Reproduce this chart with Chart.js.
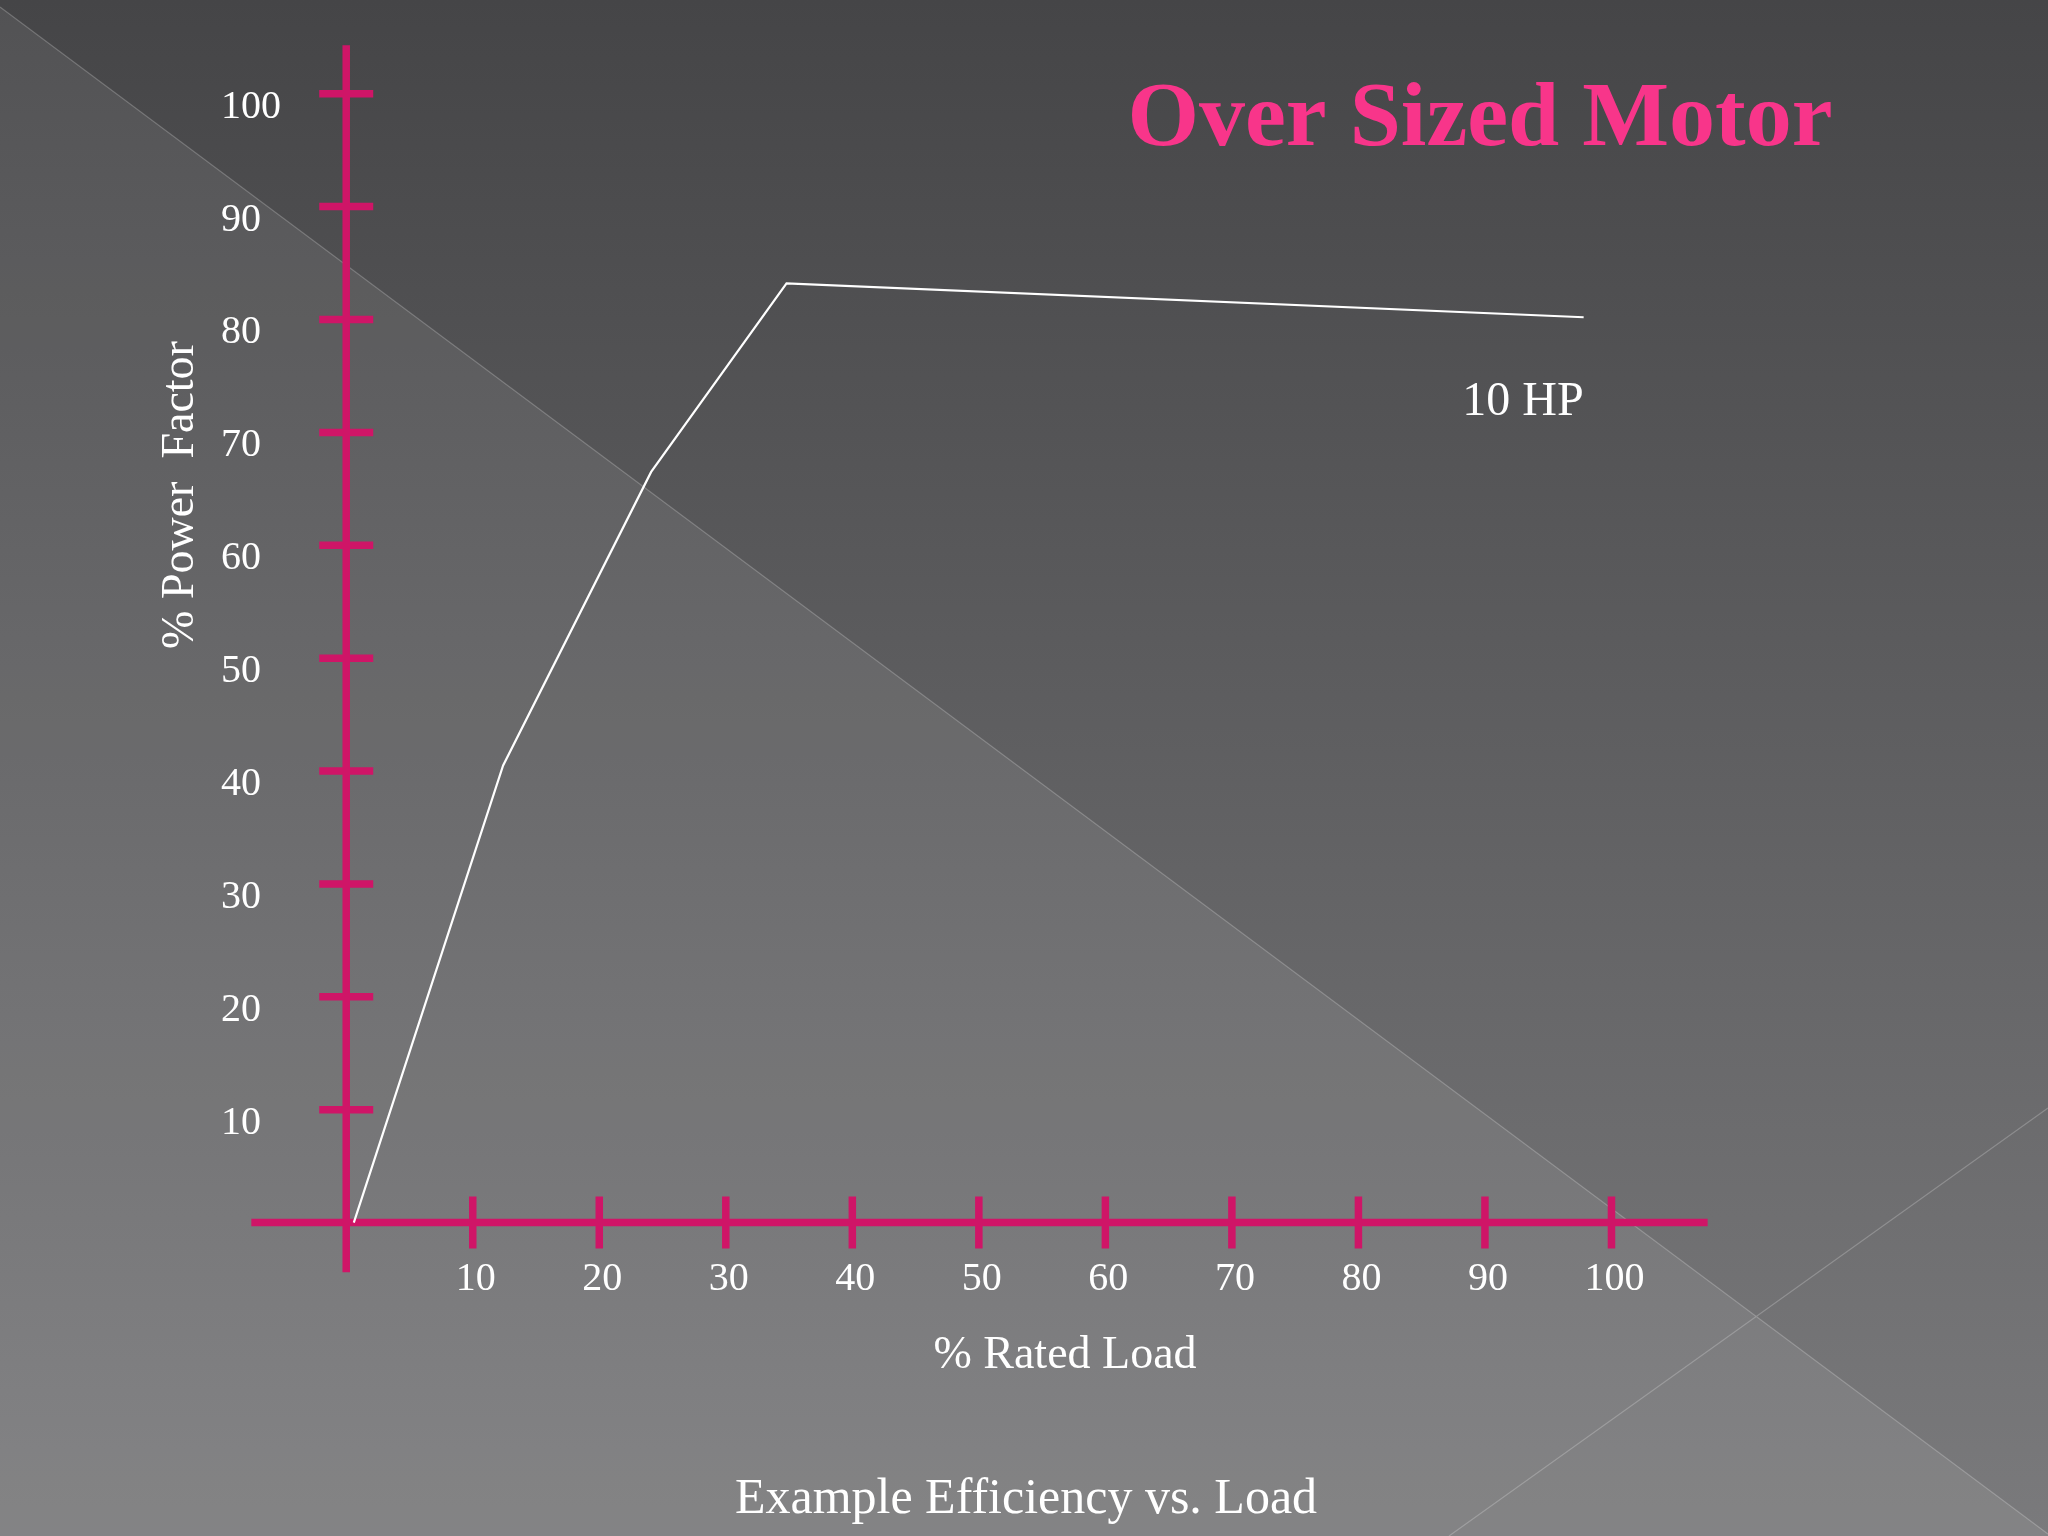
<!DOCTYPE html>
<html>
<head>
<meta charset="utf-8">
<title>Over Sized Motor</title>
<script src="https://cdn.jsdelivr.net/npm/chart.js@4/dist/chart.umd.min.js"></script>
<style>
  html, body { margin: 0; padding: 0; background: #5a5a5c; }
  #wrap { width: 2048px; height: 1536px; }
</style>
</head>
<body>
<div id="wrap"><canvas id="chart" width="2048" height="1536"></canvas></div>
<script>
// values
const loadPct = [0.6, 12.4, 24.1, 34.8, 97.8];
const powerFactor = [0, 40.5, 66.5, 83.2, 80.2];
const xTicks = [10, 20, 30, 40, 50, 60, 70, 80, 90, 100];
const yTicks = [10, 20, 30, 40, 50, 60, 70, 80, 90, 100];
const xTickLabels = ["10", "20", "30", "40", "50", "60", "70", "80", "90", "100"];
const yTickLabels = ["10", "20", "30", "40", "50", "60", "70", "80", "90", "100"];
const seriesLabel = "10 HP";

const PINK = "#cf1567";
const SERIF = "'Liberation Serif', 'DejaVu Serif', serif";

// slide background: grey gradient with the diagonal facets
const slideBackground = {
  id: "slideBackground",
  beforeDraw(chart) {
    const { ctx, width: w, height: h } = chart;
    ctx.save();
    const g = ctx.createLinearGradient(0, 0, 0, h);
    g.addColorStop(0, "#454547");
    g.addColorStop(1, "#7a7a7c");
    ctx.fillStyle = g;
    ctx.fillRect(0, 0, w, h);

    // lighter lower-left facet
    ctx.fillStyle = "rgba(255,255,255,0.075)";
    ctx.beginPath();
    ctx.moveTo(0, 7);
    ctx.lineTo(w, 1534);
    ctx.lineTo(w, h);
    ctx.lineTo(0, h);
    ctx.closePath();
    ctx.fill();

    ctx.strokeStyle = "rgba(255,255,255,0.22)";
    ctx.lineWidth = 1.2;
    ctx.beginPath();
    ctx.moveTo(0, 7);
    ctx.lineTo(w, 1534);
    ctx.moveTo(w, 1108);
    ctx.lineTo(1449, h);
    ctx.stroke();
    ctx.restore();
  }
};

// pink cross-shaped axes, tick marks and tick labels
const crossAxes = {
  id: "crossAxes",
  beforeDatasetsDraw(chart) {
    const { ctx } = chart;
    const xs = chart.scales.x, ys = chart.scales.y;
    const x0 = xs.getPixelForValue(0), y0 = ys.getPixelForValue(0);
    ctx.save();
    ctx.strokeStyle = PINK;
    ctx.lineWidth = 7.5;
    ctx.lineCap = "butt";
    ctx.beginPath();
    ctx.moveTo(x0, ys.getPixelForValue(104.3));
    ctx.lineTo(x0, ys.getPixelForValue(-4.4));
    ctx.moveTo(xs.getPixelForValue(-7.5), y0);
    ctx.lineTo(xs.getPixelForValue(107.6), y0);
    yTicks.forEach(v => {
      const py = ys.getPixelForValue(v);
      ctx.moveTo(x0 - 27, py);
      ctx.lineTo(x0 + 27, py);
    });
    xTicks.forEach(v => {
      const px = xs.getPixelForValue(v);
      ctx.moveTo(px, y0 - 26);
      ctx.lineTo(px, y0 + 26);
    });
    ctx.stroke();

    ctx.fillStyle = "#ffffff";
    ctx.font = "40px " + SERIF;
    ctx.textBaseline = "alphabetic";
    ctx.textAlign = "left";
    yTicks.forEach((v, i) => {
      ctx.fillText(yTickLabels[i], 221, ys.getPixelForValue(v) + 24);
    });
    ctx.textAlign = "center";
    xTicks.forEach((v, i) => {
      ctx.fillText(xTickLabels[i], xs.getPixelForValue(v) + 3, 1290);
    });
    ctx.restore();
  }
};

// titles and series label
const slideText = {
  id: "slideText",
  afterDraw(chart) {
    const { ctx } = chart;
    const xs = chart.scales.x, ys = chart.scales.y;
    ctx.save();
    ctx.textBaseline = "alphabetic";
    ctx.textAlign = "center";

    ctx.fillStyle = "#f8358a";
    ctx.font = "bold 92px " + SERIF;
    ctx.fillText("Over Sized Motor", 1480, 145);

    ctx.fillStyle = "#ffffff";
    ctx.font = "48px " + SERIF;
    ctx.fillText(seriesLabel, xs.getPixelForValue(93), ys.getPixelForValue(71.5));

    ctx.font = "46px " + SERIF;
    ctx.fillText("% Rated Load", 1065, 1368);

    ctx.font = "50px " + SERIF;
    ctx.fillText("Example Efficiency vs. Load", 1026, 1513);

    ctx.translate(193, 495);
    ctx.rotate(-Math.PI / 2);
    ctx.font = "46px " + SERIF;
    ctx.fillText("% Power  Factor", 0, 0);
    ctx.restore();
  }
};

new Chart(document.getElementById("chart").getContext("2d"), {
  type: "line",
  data: {
    datasets: [
      {
        label: seriesLabel,
        data: loadPct.map((x, i) => ({ x: x, y: powerFactor[i] })),
        borderColor: "#ffffff",
        borderWidth: 2.2,
        pointRadius: 0,
        tension: 0,
        fill: false,
        clip: false,
      },
    ],
  },
  options: {
    responsive: false,
    devicePixelRatio: 1,
    animation: false,
    layout: { padding: { left: 245, right: 310, top: 26, bottom: 257 } },
    plugins: { legend: { display: false }, tooltip: { enabled: false } },
    scales: {
      x: { type: "linear", min: -8, max: 110, display: false },
      y: { type: "linear", min: -5, max: 106, display: false },
    },
  },
  plugins: [slideBackground, crossAxes, slideText],
});
</script>
</body>
</html>
